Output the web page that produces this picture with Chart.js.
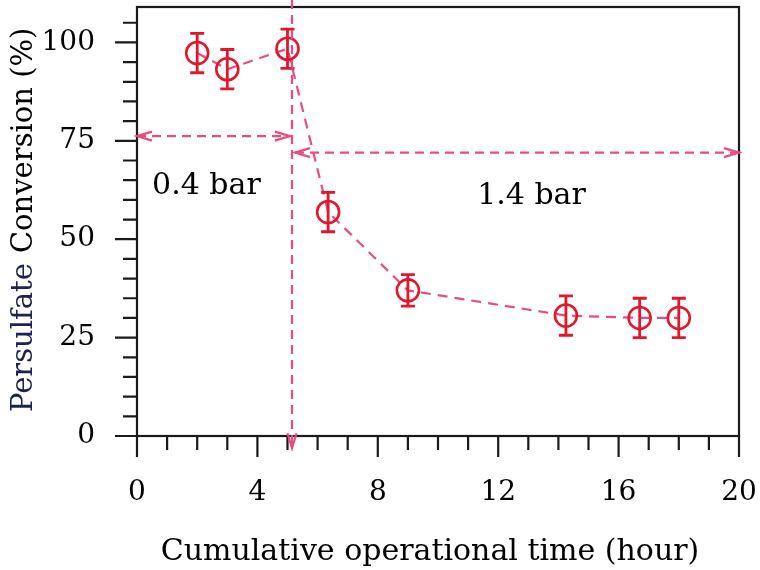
<!DOCTYPE html>
<html>
<head>
<meta charset="utf-8">
<script src="https://cdn.jsdelivr.net/npm/chart.js@4.4.0/dist/chart.umd.min.js"></script>
<style>
  html, body { margin: 0; padding: 0; background: #fff; }
  #wrap { width: 760px; height: 570px; }
</style>
</head>
<body>
<div id="wrap"><canvas id="myChart" width="760" height="570"></canvas></div>
<script>
// data
const times = [2.0, 3.0, 5.0, 6.35, 9.0, 14.25, 16.7, 18.0];
const conversion = [97.3, 93.2, 98.4, 56.9, 37.0, 30.6, 30.0, 30.0];
const errors = [5, 5, 5, 5, 4, 5, 5, 5];

const xTicks = [0, 4, 8, 12, 16, 20];
const yTicks = [0, 25, 50, 75, 100];

// pressure regions (x in hours, y in %)
const switchTime = 5.15;
const lowArrow = { from: 0, to: 5.08, y: 76.2 };
const highArrow = { from: 5.25, to: 20, y: 72.0 };
const labelLow = { text: "0.4 bar", x: 0.5, y: 61.6 };
const labelHigh = { text: "1.4 bar", x: 11.3, y: 59.0 };

const FONT = "'DejaVu Serif', serif";
const RED = "#e3162e";
const PINK = "#ea4c7e";

function arrowHead(ctx, x, y, dir) {
    // open chevron, dir = angle of the arrow direction
    const len = 15, half = 4.5;
    ctx.save();
    ctx.translate(x, y);
    ctx.rotate(dir);
    ctx.setLineDash([]);
    ctx.beginPath();
    ctx.moveTo(-len, -half);
    ctx.lineTo(0, 0);
    ctx.lineTo(-len, half);
    ctx.stroke();
    ctx.restore();
}

const extras = {
    id: "extras",
    afterDatasetsDraw(chart) {
        const ctx = chart.ctx;
        const xs = chart.scales.x, ys = chart.scales.y;

        // error bars
        ctx.save();
        ctx.strokeStyle = RED;
        ctx.lineWidth = 2.8;
        for (let i = 0; i < times.length; i++) {
            const px = xs.getPixelForValue(times[i]);
            const top = ys.getPixelForValue(conversion[i] + errors[i]);
            const bot = ys.getPixelForValue(conversion[i] - errors[i]);
            ctx.beginPath();
            ctx.moveTo(px, top); ctx.lineTo(px, bot);
            ctx.moveTo(px - 7, top); ctx.lineTo(px + 7, top);
            ctx.moveTo(px - 7, bot); ctx.lineTo(px + 7, bot);
            ctx.stroke();
        }
        ctx.restore();
    },
    afterDraw(chart) {
        const ctx = chart.ctx;
        const xs = chart.scales.x, ys = chart.scales.y;
        const area = chart.chartArea;

        // frame
        ctx.save();
        ctx.strokeStyle = "#1a1a1a";
        ctx.lineWidth = 2.2;
        ctx.strokeRect(area.left, area.top, area.right - area.left, area.bottom - area.top);

        // ticks
        ctx.beginPath();
        for (let v = 0; v <= 20; v++) {
            const px = xs.getPixelForValue(v);
            ctx.moveTo(px, area.bottom);
            ctx.lineTo(px, area.bottom + (v % 4 === 0 ? 21 : 14));
        }
        for (let v = 0; v <= 105; v += 5) {
            const py = ys.getPixelForValue(v);
            ctx.moveTo(area.left, py);
            ctx.lineTo(area.left - (v % 25 === 0 ? 22 : 14), py);
        }
        ctx.stroke();
        ctx.restore();

        // pressure annotations
        ctx.save();
        ctx.strokeStyle = PINK;
        ctx.lineWidth = 2.2;
        ctx.setLineDash([9, 6]);
        const vx = xs.getPixelForValue(switchTime);
        const vBot = ys.getPixelForValue(-3.1);
        ctx.beginPath();
        ctx.moveTo(vx, 0);
        ctx.lineTo(vx, vBot);
        ctx.stroke();
        arrowHead(ctx, vx, vBot, Math.PI / 2);

        [lowArrow, highArrow].forEach(a => {
            const x1 = xs.getPixelForValue(a.from);
            const x2 = xs.getPixelForValue(a.to);
            const py = ys.getPixelForValue(a.y);
            ctx.setLineDash([9, 6]);
            ctx.beginPath();
            ctx.moveTo(x1, py);
            ctx.lineTo(x2, py);
            ctx.stroke();
            arrowHead(ctx, x1, py, Math.PI);
            arrowHead(ctx, x2, py, 0);
        });
        ctx.restore();

        ctx.save();
        ctx.fillStyle = "#000";
        ctx.font = "30px " + FONT;
        ctx.textBaseline = "alphabetic";
        [labelLow, labelHigh].forEach(l => {
            ctx.fillText(l.text, xs.getPixelForValue(l.x), ys.getPixelForValue(l.y));
        });

        // axis titles
        ctx.textAlign = "center";
        ctx.fillText("Cumulative operational time (hour)", 430, 560);

        ctx.font = "29px " + FONT;
        ctx.textAlign = "left";
        ctx.textBaseline = "middle";
        ctx.translate(24, 412);
        ctx.rotate(-Math.PI / 2);
        ctx.fillStyle = "#1b2350";
        ctx.fillText("Persulfate", 0, 0);
        const w = ctx.measureText("Persulfate").width;
        ctx.fillStyle = "#000";
        ctx.fillText("Conversion (%)", w + 10, 0);
        ctx.restore();
    }
};

function noPad(s) {
    s.paddingTop = 0; s.paddingBottom = 0;
    s.paddingLeft = 0; s.paddingRight = 0;
}

const ctx = document.getElementById("myChart").getContext("2d");
const myChart = new Chart(ctx, {
    type: "scatter",
    data: {
        datasets: [{
            data: times.map((t, i) => ({ x: t, y: conversion[i] })),
            showLine: true,
            borderColor: PINK,
            borderWidth: 2.2,
            borderDash: [10, 7],
            pointRadius: 11,
            pointHoverRadius: 11,
            pointBorderWidth: 2.6,
            pointBorderColor: RED,
            pointBackgroundColor: "rgba(0,0,0,0)"
        }]
    },
    options: {
        responsive: false,
        animation: false,
        events: [],
        layout: { autoPadding: false, padding: { top: 7, right: 21, left: 0, bottom: 0 } },
        plugins: { legend: { display: false }, tooltip: { enabled: false } },
        scales: {
            x: {
                type: "linear",
                min: 0, max: 20,
                border: { display: false },
                grid: { display: false, drawTicks: false },
                afterBuildTicks: s => { s.ticks = xTicks.map(v => ({ value: v })); },
                ticks: { padding: 40, color: "#000", maxRotation: 0, font: { family: FONT, size: 28 } },
                afterFit: s => { s.height = 134; noPad(s); }
            },
            y: {
                min: 0, max: 109,
                border: { display: false },
                grid: { display: false, drawTicks: false },
                afterBuildTicks: s => { s.ticks = yTicks.map(v => ({ value: v })); },
                ticks: { padding: 42, color: "#000", font: { family: FONT, size: 28 } },
                afterFit: s => { s.width = 137; noPad(s); }
            }
        }
    },
    plugins: [extras]
});
</script>
</body>
</html>
